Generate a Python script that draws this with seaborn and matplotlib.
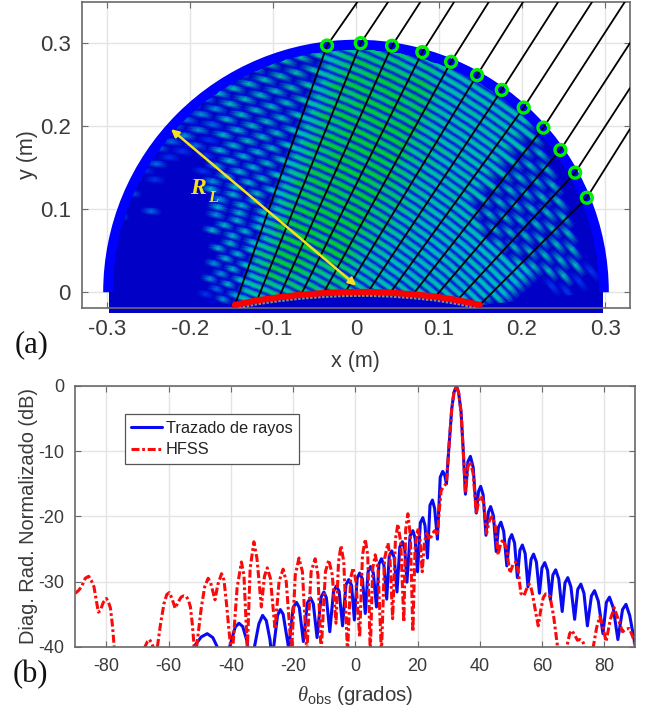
"""Ray tracing field map and radiation pattern, two panels"""
import numpy as np
import matplotlib
matplotlib.use('Agg')
import matplotlib.pyplot as plt
from matplotlib.colors import LinearSegmentedColormap
from matplotlib.patches import Polygon, Rectangle, Wedge
import seaborn as sns

W, H = 654, 713

# Pattern curves
RAYS_X = [-52.5, -51.9, -49.5, -47.6, -45.8, -44.4, -43.5,
          -41, -40.4, -38.6, -37.4, -36.2, -34.9, -34.2,
          -33, -32.4, -31, -29.8, -28.6, -27.4, -27,
          -26.3, -25, -24.1, -23.2, -21.7, -21.4,
          -20, -18.9, -18, -16.7,
          -15.4, -14.4, -13.5, -12.3,
          -11, -10.1, -9.3, -8.2,
          -7, -6.1, -5.2, -4.1,
          -3, -2.1, -1.2, -0.3,
          0.6, 1.4, 2.3, 3.2,
          4.1, 4.9, 5.8, 6.8,
          7.6, 8.4, 9.2, 10.1,
          10.9, 11.7, 12.5, 13.4,
          14.3, 15.1, 15.9, 16.6,
          17.6, 18.5, 19.2, 20,
          20.9, 21.7, 22.4, 23.2,
          24, 24.8, 25.5, 26.4,
          27.3, 28.1, 28.7, 29.3,
          30, 31, 31.7, 32.5, 33.2, 34, 34.7, 35.4,
          36.2, 37, 37.9, 38.9,
          39.6, 40.3, 41.1, 42,
          42.8, 43.5, 44.4, 45.3,
          46, 46.8, 47.7, 48.7,
          49.5, 50.3, 51.2, 52.1,
          52.9, 53.7, 54.6, 55.5,
          56.5, 57.3, 58.2, 59.2,
          60, 60.9, 61.8, 62.7,
          63.5, 64.4, 65.4, 66.5,
          67.4, 68.3, 69.3, 70.5,
          71.5, 72.5, 73.5, 74.6,
          75.9, 76.9, 78.1, 79.6,
          80.7, 81.7, 82.9, 84.4,
          85.9, 87, 88.2, 90]
RAYS_Y = [-41.5, -40, -38.5, -38, -38.6, -40, -42,
          -42, -40, -37, -36.4, -36.9, -39, -41,
          -42, -40, -36.5, -35.2, -36, -39, -41,
          -40.3, -35.2, -34.3, -35, -39.5, -40.3,
          -34, -33.2, -34, -39.2,
          -33.3, -32.5, -33.4, -38.6,
          -32.4, -31.6, -32.5, -37.7,
          -31.5, -30.7, -31.5, -36.8,
          -30.5, -29.7, -30.6, -35.9,
          -29.5, -28.7, -29.6, -34.9,
          -28.5, -27.7, -28.7, -33.9,
          -27.3, -26.5, -27.5, -32.7,
          -26.1, -25.3, -26.3, -31.6,
          -24.7, -23.9, -25, -30.1,
          -23, -22.2, -23.3, -28.5,
          -21, -20.2, -21.4, -26.4,
          -18.3, -17.5, -18.8, -23.5,
          -14, -13.1, -13.6, -15,
          -10, -3.5, -1, 0, -1, -4, -10, -16.6,
          -11.6, -10.8, -12.5, -19.5,
          -16.2, -15.4, -16.7, -22.9,
          -19.3, -18.5, -19.9, -25.4,
          -21.7, -20.9, -22.3, -27.6,
          -23.6, -22.8, -24.1, -29.4,
          -25.2, -24.4, -25.7, -30.8,
          -26.6, -25.8, -27, -31.8,
          -27.9, -27.1, -28.3, -32.8,
          -29, -28.2, -29.6, -34.6,
          -30.2, -29.4, -30.8, -35.8,
          -31.2, -30.4, -31.8, -36.8,
          -32.2, -31.4, -33, -38,
          -33.2, -32.4, -34, -38.9,
          -34.3, -33.5, -35.2, -39.9]

HFSS_X = [-90, -89, -88, -86.8, -85.7, -84.9, -84, -82.6, -82, -81, -80, -79.3, -78.7, -78, -77.5, -77.2,
          -68, -67.6, -66.8, -66.2, -65.6, -65, -64.6, -64,
          -63.6, -62.6, -61.5, -60.6, -59.8, -59, -57.9, -57, -56, -55.2, -54.3, -53.6, -53, -52.4, -51.8, -51.5,
          -51, -49.5, -48.4, -47.3, -46.5, -45.1, -44.2, -43, -42.2, -41.4, -40.5, -39.8,
          -39.5, -38, -36.6, -35.8, -34.7,
          -33.8, -32.6, -31.6, -30.2,
          -29.2, -28.3, -27.3, -25.8,
          -24.5, -23.2, -22.2, -20.5,
          -19.3, -18.1, -17, -15.6,
          -14.2, -12.9, -12, -11,
          -9.6, -8.5, -7.4, -6.2,
          -5.4, -4.6, -3.7, -2.5,
          -1.5, -0.7, 0.2, 1.4,
          2.3, 3.2, 4, 4.8,
          5.6, 6.4, 7.3, 8.4,
          9.4, 10.5, 11.1, 12,
          12.9, 13.7, 14.6, 15.6,
          16.2, 16.9, 17.7, 18.5,
          19.2, 20.1, 20.8, 21.5,
          22.2, 22.9, 23.4, 24, 24.7, 25.5, 26, 26.4, 27, 27.6, 28.5, 29.3,
          30, 31, 31.7, 32.5, 33.2, 34, 34.7, 35.4,
          36.2, 37, 37.9, 38.9,
          39.7, 40.5, 41.3, 42.2,
          43.1, 44, 45, 45.9,
          46.8, 47.6, 48.6, 49.7,
          50.7, 51.6, 52.4, 53.2,
          54.2, 55, 55.9, 56.4, 56.9, 57.9, 58.8, 59.6, 60.4, 61.2, 62, 62.6, 63.8, 65, 65.5,
          67.5, 68, 68.9, 69.6, 70.5, 71.4, 72.2, 73, 73.8, 74.5,
          76, 76.5, 77.6, 78.6, 79.6, 80.6, 82, 83.2, 84.5, 85.9, 87, 88.1, 89.2, 90]
HFSS_Y = [-31.8, -31.4, -30.8, -29.5, -29.2, -29.8, -30.8, -34.7, -34.5, -33.2, -32.6, -33.2, -34.1, -37, -40, -42,
          -42, -40, -39.2, -38.9, -39.3, -40, -40.6, -41,
          -40, -36.5, -33.4, -32, -31.7, -32.5, -34.1, -33.2, -32.4, -32.2, -32.3, -32.9, -33.9, -36.5, -40, -41.5,
          -40, -34, -30.8, -29.5, -30.2, -32.8, -30.5, -28.8, -29.8, -33.4, -38, -41,
          -41, -31, -27, -29, -40.5,
          -28, -23.9, -26.5, -33.9,
          -29.2, -27.9, -29.5, -37.3,
          -30, -28.1, -30, -41,
          -29, -26.4, -28.5, -41,
          -28.5, -26.5, -29, -41,
          -28.5, -26.7, -29, -36.4,
          -27, -24.5, -27, -41,
          -29.5, -27.9, -30, -38.5,
          -26, -23.5, -26, -41,
          -28, -25.9, -28, -41,
          -26.5, -24.1, -26, -35.7,
          -23.5, -21.2, -24, -36.2,
          -22, -19.6, -23, -37.7,
          -25, -21.8, -23.5, -28.5,
          -24, -22.6, -23, -23.6, -22.7, -22.2, -22.4, -22.9, -19, -16, -15.4, -14.9,
          -10, -3.5, -1, 0, -1, -4, -10, -16.5,
          -12.4, -11.6, -13.5, -19.6,
          -17.5, -16.9, -18, -22.6,
          -20.6, -20, -21.5, -25.9,
          -24, -23.6, -25, -28.7,
          -27.4, -27, -28.5, -31.8,
          -32.2, -31.2, -30.4, -30.8, -31.8, -34.5, -36.8, -34.4, -32.5, -31.9, -32, -32.3, -35.5, -40, -41.5,
          -41.5, -40, -38, -37.5, -38.2, -39, -38.9, -39.1, -40, -41,
          -41, -40, -37, -35.4, -37, -39.2, -35.8, -34, -35.8, -37.7, -37.3, -37.2, -38.5, -39.9]

# Ray paths in the map: lens point, ring on the aperture, end at the frame
LENS_X = [-0.1458, -0.1193, -0.0928, -0.0663, -0.0393, -0.0129, 0.0145, 0.0413, 0.0687, 0.0956, 0.1221, 0.1491]
LENS_Y = [-0.0153, -0.0098, -0.0060, -0.0030, -0.0010, 0.0002, 0.0004, -0.0005, -0.0025, -0.0052, -0.0095, -0.0153]
RING_X = [-0.0349, 0.0057, 0.0434, 0.0799, 0.1145, 0.1458, 0.1756, 0.2020, 0.2257, 0.2462, 0.2639, 0.2780]
RING_Y = [0.2975, 0.3004, 0.2972, 0.2896, 0.2779, 0.2618, 0.2440, 0.2227, 0.1985, 0.1716, 0.1442, 0.1140]
OUT_X = [0.0016, 0.0386, 0.0775, 0.1181, 0.1599, 0.2012, 0.2434, 0.2843, 0.3237, 0.33, 0.33, 0.33]
OUT_Y = [0.35, 0.35, 0.35, 0.35, 0.35, 0.35, 0.35, 0.35, 0.35, 0.3005, 0.2462, 0.1969]

# Fringe strength estimated by eye, 0-9. One row per fringe, going away from
# the fan apex, one column per 1.28 deg of fan angle. Not a solved field.
FRINGES = [
    "00000000 00000000 00000000 00000000 00000000 00",
    "00000000 00000000 00000000 00000000 00000000 00",
    "00000000 00000000 00000000 00000000 00000000 00",
    "00000000 00000000 00000000 00000000 00000000 00",
    "00000000 00000103 00000000 00000000 00000000 00",
    "00000000 00002040 50000000 00000000 00000000 00",
    "00000000 00000304 66000000 00000000 00000000 00",
    "20000000 00004050 67700000 00000000 00000000 00",
    "00000000 00000405 67787000 00000000 00000000 00",
    "30000000 00004050 67877800 00000000 00000000 00",
    "00000000 00000505 78988870 70000000 00000000 00",
    "20000000 00005050 78988787 87000000 00000000 00",
    "30000000 00000505 88999878 87600000 00000000 00",
    "20300000 00050505 78999887 87760000 00000000 00",
    "03000300 00005050 68999888 87766000 00000000 00",
    "30300000 00040505 78999998 87766600 00000000 00",
    "03030000 00050505 79899999 87766660 00000000 00",
    "40300000 00040506 78999899 87766666 00000000 00",
    "04030200 00505050 68989999 87766665 60000000 00",
    "30302000 00405060 78999998 87766566 56000000 00",
    "03020300 02050505 68899999 88766656 65000000 00",
    "40302020 00405060 78989899 87766566 56500000 00",
    "04030302 02050506 69899999 88776656 65650000 00",
    "50404030 30505060 78999898 88776566 56560000 00",
    "05040304 02050506 68989999 87776656 65656000 00",
    "60504030 40506060 78999899 88766665 66565000 00",
    "06050403 03050606 68899998 88776665 65656000 00",
    "50605040 40506060 79899999 87776656 56565000 00",
    "06050504 04060606 68999899 88776766 65656000 00",
    "50605050 40606060 78989998 87767667 06065000 00",
    "05060505 05060606 68899999 78767670 60606020 00",
    "50506050 50606060 79899989 87767606 06060602 00",
    "05050605 05060607 68998999 78776760 60606060 00",
    "50506060 60606070 78989998 87667606 06060602 00",
    "05050606 06060707 68899899 78767670 60606060 00",
    "00005060 60607070 79899989 77676706 06060602 00",
    "00000506 06060707 68998998 76767670 60606000 00",
    "00000050 60707070 78989989 77676706 06060000 00",
    "00000005 06070707 68899898 76767670 60600000 00",
    "00000000 60707070 78989898 67676706 06000000 00",
    "00000000 06070707 67888898 76767670 60000000 00",
    "00000000 00707070 70888787 67676706 00000000 00",
    "00000000 00070707 07788786 76767670 00000000 00",
    "00000000 00007070 70787877 67676700 00000000 00",
    "00000000 00000707 07777676 76760000 00000000 00",
]

MAP_XTICKS = [-0.3, -0.2, -0.1, 0, 0.1, 0.2, 0.3]
MAP_YTICKS = [0, 0.1, 0.2, 0.3]
PAT_XTICKS = [-80, -60, -40, -20, 0, 20, 40, 60, 80]
PAT_YTICKS = [-40, -30, -20, -10, 0]

TEXT = '#3a3a3a'
FRAME = '#6a6a6a'
GRID = '#e4e4e4'
YELLOW = '#f4e31a'

sns.set_theme(style='whitegrid')
plt.rcParams['font.family'] = ['Liberation Sans', 'DejaVu Sans']
plt.rcParams['mathtext.fontset'] = 'custom'
plt.rcParams['mathtext.it'] = 'Liberation Serif:italic'
plt.rcParams['mathtext.rm'] = 'Liberation Sans'


def make_axes(fig, left, top, right, bottom):
    ax = fig.add_axes([left / W, 1 - bottom / H, (right - left) / W, (bottom - top) / H])
    ax.set_axisbelow(True)
    ax.grid(True, color=GRID, linewidth=1)
    for spine in ax.spines.values():
        spine.set_color(FRAME)
        spine.set_linewidth(1.2)
    ax.tick_params(direction='in', top=True, right=True, bottom=True, left=True,
                   color=FRAME, length=4, width=0.8, labelcolor=TEXT)
    return ax


fig = plt.figure(figsize=(W / 100, H / 100), dpi=100)

# (a) field map
ax = make_axes(fig, 82, 2, 630, 308)
ax.set_xlim(-0.33, 0.33)
ax.set_ylim(-0.019, 0.35)

ax.add_patch(Wedge((0, 0), 0.3045, 0, 180, facecolor='#0000ff', edgecolor='none', zorder=2))
ax.add_patch(Wedge((0, 0), 0.2925, 0, 180, facecolor='#0000c6', edgecolor='none', zorder=2))
ax.add_patch(Rectangle((-0.297, -0.0245), 0.594, 0.0245, facecolor='#0000c6', edgecolor='none',
                       zorder=2, clip_on=False))

# mesh fanning out from the point where the first and last ray meet,
# each fringe gets two mesh rows at full strength and one low row as the gap
rows = np.array([[int(c) for c in row.replace(' ', '')] for row in FRINGES], dtype=float)
cells = np.zeros((rows.shape[0] * 3, rows.shape[1]))
cells[::3] = rows
cells[1::3] = rows
cells[2::3] = rows * 0.14
radius = 0.44 + 0.00319 * np.arange(cells.shape[0])
angle = np.radians(90 - 1.28 * np.arange(cells.shape[1]))
mesh_x = -0.311 + np.outer(radius, np.cos(angle))
mesh_y = -0.474 + np.outer(radius, np.sin(angle))
field_cmap = LinearSegmentedColormap.from_list(
    'field', [(0, '#0000c6'), (0.14, '#0010f0'), (0.35, '#0070e0'), (0.55, '#00b4c8'),
              (0.8, '#00bca0'), (1, '#00c83c')])
field = ax.pcolormesh(mesh_x, mesh_y, cells, shading='gouraud', cmap=field_cmap, vmin=0, vmax=9, zorder=3)
rim = np.radians(np.linspace(0, 180, 181))
clip_pts = list(zip(0.2925 * np.cos(rim), 0.2925 * np.sin(rim))) + list(zip(LENS_X, LENS_Y))
field.set_clip_path(Polygon(clip_pts, closed=True, transform=ax.transData))

# grey speckle under the lens, then the lens itself
sns.lineplot(x=LENS_X, y=[v - 0.0045 for v in LENS_Y], ax=ax, color='#8a8a8a', linewidth=1.8,
             linestyle=(0, (1, 0.6)), sort=False, estimator=None, zorder=4, legend=False)
for i in range(len(LENS_X)):
    sns.lineplot(x=[LENS_X[i], RING_X[i], OUT_X[i]], y=[LENS_Y[i], RING_Y[i], OUT_Y[i]], ax=ax,
                 color='black', linewidth=1.3, sort=False, estimator=None, zorder=5, legend=False)
sns.lineplot(x=LENS_X, y=LENS_Y, ax=ax, color='#fa0000', linewidth=4.4, sort=False, estimator=None,
             zorder=6, legend=False)
sns.scatterplot(x=RING_X, y=RING_Y, ax=ax, s=62, marker='o', facecolor='none', edgecolor='#00f000',
                linewidth=2.4, zorder=7, legend=False)

ax.annotate('', xy=(-0.2229, 0.1967), xytext=(0.0004, 0.008), zorder=8,
            arrowprops=dict(arrowstyle='<|-|>', color=YELLOW, lw=1.8, mutation_scale=11, shrinkA=0, shrinkB=0))
ax.text(-0.2, 0.1245, 'R', color=YELLOW, fontsize=17, family='Liberation Serif', style='italic',
        weight='bold', va='center', ha='left', zorder=8)
ax.text(-0.1785, 0.1135, 'L', color=YELLOW, fontsize=12, family='Liberation Serif', style='italic',
        weight='bold', va='center', ha='left', zorder=8)

ax.set_xticks(MAP_XTICKS)
ax.set_xticklabels([f'{v:g}' for v in MAP_XTICKS])
ax.set_yticks(MAP_YTICKS)
ax.set_yticklabels([f'{v:g}' for v in MAP_YTICKS])
ax.tick_params(labelsize=16, pad=8)
ax.set_xlabel('x (m)', fontsize=15.5, color=TEXT)
ax.xaxis.set_label_coords((355 - 82) / 548, -(351 - 308) / 306, transform=ax.transAxes)
ax.set_ylabel('y (m)', fontsize=15.5, color=TEXT)
ax.yaxis.set_label_coords(-(82 - 38) / 548, (308 - 155) / 306, transform=ax.transAxes)

# (b) radiation pattern
ax2 = make_axes(fig, 75.3, 386, 635.3, 646.7)
sns.lineplot(x=RAYS_X, y=RAYS_Y, ax=ax2, color='#0a0af0', linewidth=2.2, sort=False, estimator=None,
             label='Trazado de rayos')
sns.lineplot(x=HFSS_X, y=HFSS_Y, ax=ax2, color='#fa0a0a', linewidth=2.2, linestyle=(0, (2.6, 0.9, 0.9, 0.9)),
             sort=False, estimator=None, label='HFSS')
ax2.set_xlim(-90, 90)
ax2.set_ylim(-40, 0)
ax2.set_xticks(PAT_XTICKS)
ax2.set_xticklabels([f'{v:g}' for v in PAT_XTICKS])
ax2.set_yticks(PAT_YTICKS)
ax2.set_yticklabels([f'{v:g}' for v in PAT_YTICKS])
ax2.tick_params(labelsize=13, pad=8)
ax2.set_xlabel(r'$\theta_{\mathrm{obs}}$ (grados)', fontsize=14.8, color=TEXT)
ax2.xaxis.set_label_coords((355 - 75.3) / 560, -(684 - 646.7) / 260.7, transform=ax2.transAxes)
ax2.set_ylabel('Diag. Rad. Normalizado (dB)', fontsize=14.4, color=TEXT)
ax2.yaxis.set_label_coords(-(75.3 - 38) / 560, (646.7 - 516) / 260.7, transform=ax2.transAxes)

leg = ax2.legend(loc='upper left', bbox_to_anchor=((124.7 - 75.3) / 560, 1 - (414.3 - 386) / 260.7),
                 fontsize=11.8, frameon=True, fancybox=False, framealpha=1, edgecolor='#555555',
                 borderaxespad=0, borderpad=0.4, labelspacing=0.4, handlelength=1.9, handletextpad=0.2)
leg.get_frame().set_linewidth(0.9)
for t in leg.get_texts():
    t.set_color('#222222')

fig.text(15 / W, 1 - 345 / H, '(a)', fontsize=22, family='Liberation Serif', color='#111111', va='center')
fig.text(13 / W, 1 - 675 / H, '(b)', fontsize=22, family='Liberation Serif', color='#111111', va='center')

fig.savefig('out.png', dpi=100)
